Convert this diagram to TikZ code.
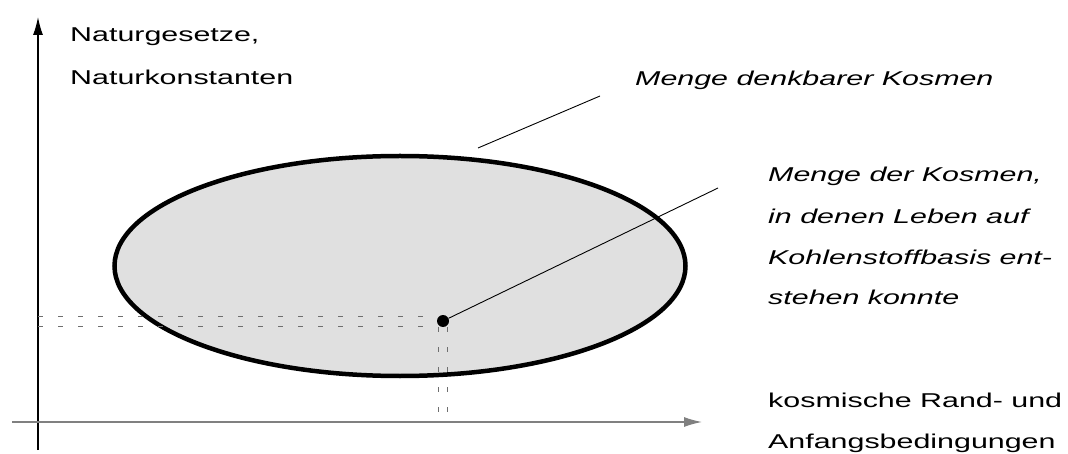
\documentclass[tikz,border=0pt]{standalone}
\usepackage{fontspec}
\setmainfont{Liberation Sans}[FakeStretch=1.52]
\usetikzlibrary{arrows.meta,positioning}
\definecolor{fillgray}{HTML}{E0E0E0}
\definecolor{axisgray}{HTML}{808080}
\definecolor{guidegray}{HTML}{6E6E6E}
\tikzset{
  lbl/.style={font=\fontsize{20}{41}\selectfont,inner sep=0pt,anchor=base west,align=left},
  ilbl/.style={lbl,font=\fontsize{20}{41}\selectfont\itshape},
  axisarr/.style={-{Latex[length=18pt,width=10pt]},line width=1.3pt},
  guide/.style={dash pattern=on 5pt off 15pt,line width=1pt,color=guidegray},
  leader/.style={line width=0.9pt}
}
\begin{document}
\begin{tikzpicture}[x=1pt,y=-1pt]
  \useasboundingbox (0,0) rectangle (1068,454);
  % Achsen
  \coordinate (origin) at (38,422);
  \coordinate (ytop) at (38,17);
  \coordinate (ybot) at (38,450);
  \coordinate (xleft) at (12,422);
  \coordinate (xright) at (702,422);
  % Menge denkbarer Kosmen
  \draw[line width=4.5pt,fill=fillgray] (400,266) ellipse [x radius=285.5,y radius=110];
  \draw[axisarr] (ybot) -- (ytop);
  \draw[axisarr,color=axisgray] (xleft) -- (xright);
  % Punkt und Hilfslinien
  \node[circle,fill=black,inner sep=0pt,minimum size=12pt] (dot) at (443,321) {};
  \draw[guide] (38,316) -- (437,316);
  \draw[guide] (38,326) -- (437,326);
  \draw[guide] (438,327) -- (438,422);
  \draw[guide] (447,327) -- (447,422);
  % Beschriftungen (base = letzte Zeile)
  \node[lbl] (naturg) at (70,85) {Naturgesetze,\\[2pt]Naturkonstanten};
  \node[ilbl] (denkbar) at (635,86) {Menge denkbarer Kosmen};
  \node[ilbl] (leben) at (768,305) {Menge der Kosmen,\\ in denen Leben auf\\ Kohlenstoffbasis ent-\\ stehen konnte};
  \node[lbl] (rand) at (768,448) {kosmische Rand- und\\Anfangsbedingungen};
  \coordinate (denkin) at (478,148);
  \coordinate (denkend) at (600,96);
  \coordinate (lebenend) at (718,188);
  \draw[leader] (denkin) -- (denkend);
  \draw[leader] (dot) -- (lebenend);
\end{tikzpicture}
\end{document}
